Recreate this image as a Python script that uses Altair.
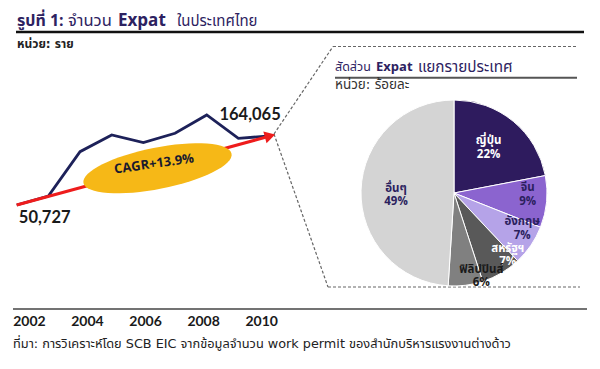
import math
import altair as alt
import pandas as pd

# ---------------- data ----------------
years = [2002, 2003, 2004, 2005, 2006, 2007, 2008, 2009, 2010]
expats = [50727, 65500, 138300, 165700, 153100, 168500, 198600, 160300, 164065]
tick_years = [2002, 2004, 2006, 2008, 2010]
countries = ["ญี่ปุ่น", "จีน", "อังกฤษ", "สหรัฐฯ", "ฟิลิปปินส์", "อื่นๆ"]
shares = [22, 9, 7, 7, 6, 49]
cagr_label = "CAGR+13.9%"

title_parts = ["รูปที่ 1:", "จำนวน", "Expat", "ในประเทศไทย"]
unit_left = "หน่วย: ราย"
pie_title_parts = ["สัดส่วน", "Expat", "แยกรายประเทศ"]
unit_right = "หน่วย:  ร้อยละ"
source_note = "ที่มา: การวิเคราะห์โดย SCB EIC จากข้อมูลจำนวน work permit ของสำนักบริหารแรงงานต่างด้าว"

# ---------------- styles ----------------
FONT_TH = "Tahoma, 'Noto Sans Thai', 'Noto Sans Thai UI', Loma, Garuda, Sarabun, 'DejaVu Sans', sans-serif"
FONT_WIDE = "'DejaVu Sans', Tahoma, 'Noto Sans Thai', 'Noto Sans Thai UI', Loma, Garuda, sans-serif"
FONT_NUM = "Lato, 'Open Sans', sans-serif"
FONT_LAT = "'Open Sans', sans-serif"
PURPLE = "#2d2261"
NAVY = "#1d2159"
RED = "#ee1c1c"
GOLD = "#f6b817"
pie_colors = ["#2e1b5e", "#8b64cf", "#b5a3e8", "#595959", "#808080", "#d4d4d4"]

W, H = 584, 353
one = pd.DataFrame({"k": [0]})
line_df = pd.DataFrame({"year": years, "value": expats})
tick_df = pd.DataFrame({"year": tick_years})
pie_df = pd.DataFrame({"country": countries, "share": shares})

xscale = alt.Scale(domain=[2001.725, 2020.166], nice=False, zero=False)
yscale = alt.Scale(domain=[-205515, 374315], nice=False, zero=False)
X = alt.X("year:Q", scale=xscale, axis=None)
Y = alt.Y("value:Q", scale=yscale, axis=None)


def txt(text, x, y, size, color="#222222", weight="normal", align="left",
        baseline="middle", font=FONT_TH, angle=0):
    return alt.Chart(one).mark_text(
        text=text, align=align, baseline=baseline, fontSize=size,
        fontWeight=weight, color=color, font=font, angle=angle
    ).encode(x=alt.value(x), y=alt.value(y))


def rule(x1, y1, x2, y2, color, width, dash=None):
    kw = dict(color=color, strokeWidth=width)
    if dash:
        kw["strokeDash"] = dash
    return alt.Chart(one).mark_rule(**kw).encode(
        x=alt.value(x1), y=alt.value(y1), x2=alt.value(x2), y2=alt.value(y2))


layers = []

# titles
layers += [
    txt(title_parts[0], 9, 18, 16, PURPLE, "bold", baseline="alphabetic"),
    txt(title_parts[1], 60, 18, 16.5, PURPLE, "normal", baseline="alphabetic"),
    txt(title_parts[2], 110, 18, 17, PURPLE, "bold", baseline="alphabetic", font=FONT_LAT),
    txt(title_parts[3], 169, 18, 15, PURPLE, "normal", baseline="alphabetic"),
    rule(8, 24, 576, 24, "#111111", 2.5),
    txt(unit_left, 9, 36, 12, "#222222", "bold", font=FONT_WIDE),
]

# connector dashes
DASH = [3, 2]
layers += [
    rule(266, 126, 325, 38.5, "#666666", 1.2, DASH),
    rule(325, 38.5, 570, 38.5, "#666666", 1.2, DASH),
    rule(266, 126, 320, 279, "#666666", 1.2, DASH),
    rule(320, 279, 572, 279, "#666666", 1.2, DASH),
]

# line chart
navy = alt.Chart(line_df).mark_line(color=NAVY, strokeWidth=2.8).encode(x=X, y=Y)
ends = alt.Chart(line_df).transform_filter(
    alt.FieldOneOfPredicate(field="year", oneOf=[years[0], years[-1]]))
arrow = ends.mark_line(color=RED, strokeWidth=3).encode(x=X, y=Y)
head = alt.Chart(line_df).transform_filter(alt.datum.year == years[-1]).mark_point(
    shape="triangle-right", filled=True, size=150, angle=344.8, color=RED, opacity=1
).encode(x=X, y=Y)

# ellipse shape (unit box path)
ratio = 0.274
pts = []
for i in range(64):
    t = 2 * math.pi * i / 64
    pts.append(f"{math.cos(t):.4f},{ratio * math.sin(t):.4f}")
ellipse_path = "M" + " L".join(pts) + " Z"
ellipse = alt.Chart(one).mark_point(
    shape=ellipse_path, size=151 * 151, angle=348.8, filled=True, color=GOLD,
    opacity=1, strokeWidth=0
).encode(x=alt.value(149.5), y=alt.value(160.3))
cagr = txt(cagr_label, 146, 156, 13, "#1a1a2e", "bold", align="center",
           font=FONT_LAT, angle=352)

first_lbl = alt.Chart(line_df).transform_filter(alt.datum.year == years[0]).mark_text(
    fontSize=16.5, fontWeight="bold", font=FONT_NUM, color="#1a1a1a", dx=28, dy=13
).encode(x=X, y=Y, text=alt.Text("value:Q", format=","))
last_lbl = alt.Chart(line_df).transform_filter(alt.datum.year == years[-1]).mark_text(
    fontSize=16.5, fontWeight="bold", font=FONT_NUM, color="#1a1a1a", dx=-20, dy=-21
).encode(x=X, y=Y, text=alt.Text("value:Q", format=","))

layers += [navy, arrow, head, ellipse, cagr, first_lbl, last_lbl]

# bottom rule, year labels, source
year_lbls = alt.Chart(tick_df).transform_calculate(
    lx="2002.4 + (datum.year - 2002) * 0.917"
).mark_text(fontSize=14, fontWeight="bold", font=FONT_NUM, color="#1a1a1a").encode(
    x=alt.X("lx:Q", scale=xscale, axis=None), y=alt.value(314), text="year:N")
layers += [
    rule(5, 301, 579, 301, "#444444", 1.5),
    year_lbls,
    txt(source_note, 5, 335.5, 12.8, "#222222", font=FONT_WIDE),
]

# pie panel titles
layers += [
    txt(pie_title_parts[0], 327, 58.7, 12.5, PURPLE, "normal"),
    txt(pie_title_parts[1], 368, 58.7, 13, PURPLE, "bold", font=FONT_LAT),
    txt(pie_title_parts[2], 410, 58.7, 15.3, PURPLE, "normal"),
    rule(327, 69.7, 569, 69.7, "#555555", 2),
    txt(unit_right, 327, 76.5, 13.5, "#333333", "normal", font=FONT_WIDE),
]

CX, CY = 446, 185
theta_scale = alt.Scale(domain=[0, 100])
pie = alt.Chart(pie_df).transform_window(idx="row_number()").mark_arc(
    outerRadius=93, stroke="white", strokeWidth=1
).encode(
    theta=alt.Theta("share:Q", stack=True, scale=theta_scale),
    color=alt.Color("country:N", scale=alt.Scale(domain=countries, range=pie_colors), legend=None),
    order=alt.Order("idx:Q"),
    x=alt.value(CX), y=alt.value(CY),
)
layers.append(pie)

lbl_base = alt.Chart(pie_df).transform_window(idx="row_number()").transform_window(
    cum="sum(share)", sort=[alt.SortField("idx")], frame=[None, 0]
).transform_calculate(
    mid="datum.cum - datum.share / 2",
    pct="datum.share + '%'",
)
label_style = {
    "ญี่ปุ่น": (59, -3, -6, "#ffffff"),
    "จีน": (72, 2, -11, "#2b1f5e"),
    "อังกฤษ": (74, 7, -12, "#2b1f5e"),
    "สหรัฐฯ": (76, 15, -9, "#ffffff"),
    "ฟิลิปปินส์": (82, 17, -4, "#1a1a1a"),
    "อื่นๆ": (58, 0, -2, "#2b1f5e"),
}
for c in countries:
    r, dx, dy, col = label_style[c]
    for field, off in (("country", -0.5), ("pct", 13)):
        layers.append(
            lbl_base.transform_filter(alt.datum.country == c).mark_text(
                radius=r, dx=dx, dy=dy + off, fontSize=11.5, fontWeight="bold",
                font=FONT_TH, color=col
            ).encode(
                theta=alt.Theta("mid:Q", stack=False, scale=theta_scale),
                text=alt.Text(f"{field}:N"), x=alt.value(CX), y=alt.value(CY),
            )
        )

chart = alt.layer(*layers).properties(
    width=W, height=H, autosize=alt.AutoSizeParams(type="none"), padding=0
).configure_view(stroke=None)

chart.save("out.html", embed_options={"renderer": "svg", "actions": False})
